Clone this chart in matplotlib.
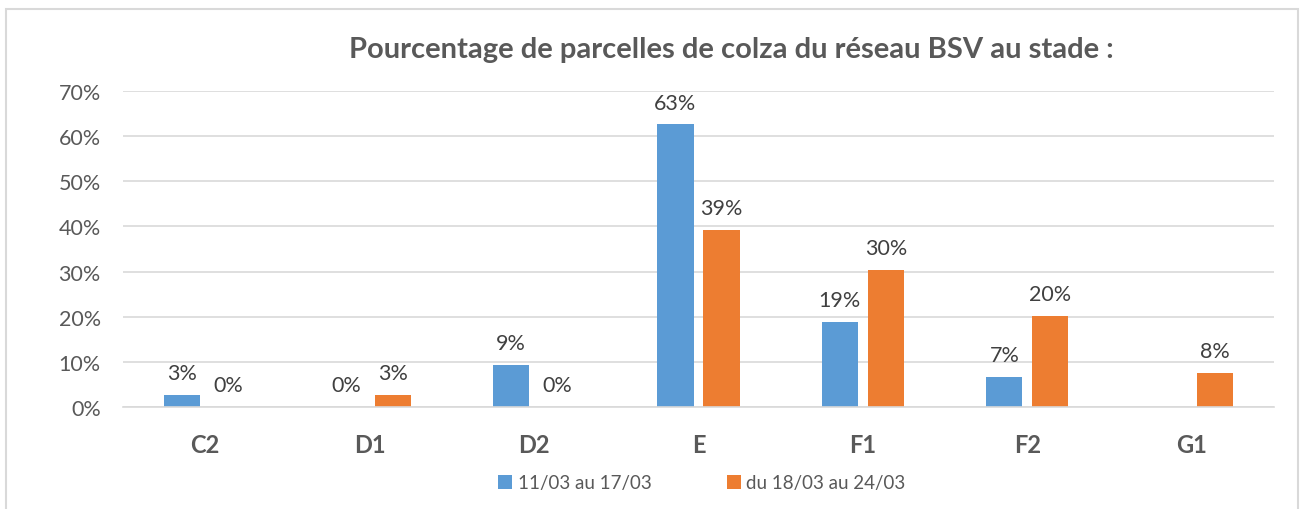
import numpy as np
import matplotlib.pyplot as plt
from matplotlib.patches import Rectangle

plt.rcParams['font.family'] = ['Lato', 'DejaVu Sans']

# donnees
stades = ["C2", "D1", "D2", "E", "F1", "F2", "G1"]
semaine1 = [2.7, 0.0, 9.3, 62.6, 18.8, 6.6, np.nan]
semaine2 = [0.0, 2.7, 0.0, 39.2, 30.3, 20.2, 7.5]
labels1 = ["3%", "0%", "9%", "63%", "19%", "7%", ""]
labels2 = ["0%", "3%", "0%", "39%", "30%", "20%", "8%"]
noms = ["11/03 au 17/03", "du 18/03 au 24/03"]

bleu = "#5b9bd5"
orange = "#ed7d31"
gris = "#595959"

fig = plt.figure(figsize=(13.06, 5.10), dpi=100)
ax = fig.add_axes([123/1306, 1-408/510, 1151/1306, 316/510])

x = np.arange(len(stades))
w = 0.22
d = 0.14
b1 = ax.bar(x - d, semaine1, w, color=bleu, label=noms[0])
b2 = ax.bar(x + d, semaine2, w, color=orange, label=noms[1])

for i in range(len(stades)):
    if labels1[i]:
        v = 0 if np.isnan(semaine1[i]) else semaine1[i]
        ax.text(x[i] - d, v + 2.6, labels1[i], ha="center", va="bottom", fontsize=15.5, color="#404040")
    if labels2[i]:
        ax.text(x[i] + d, semaine2[i] + 2.6, labels2[i], ha="center", va="bottom", fontsize=15.5, color="#404040")

ax.set_xlim(-0.5, len(stades) - 0.5)
ax.set_ylim(0, 70)
ax.set_yticks(range(0, 71, 10))
ax.set_yticklabels([f"{t}%" for t in range(0, 71, 10)])
ax.set_xticks(x)
ax.set_xticklabels(stades, fontweight="bold", fontsize=17, color=gris)
ax.tick_params(axis="y", length=0, pad=16, labelsize=15.5, labelcolor=gris)
ax.tick_params(axis="x", length=0, pad=19)
ax.yaxis.grid(True, color="#d9d9d9", linewidth=1.2)
ax.set_axisbelow(True)
for s in ["top", "right", "left"]:
    ax.spines[s].set_visible(False)
ax.spines["bottom"].set_color("#d9d9d9")
ax.spines["bottom"].set_linewidth(1.2)

fig.text(731/1306, 1-50/510, "Pourcentage de parcelles de colza du réseau BSV au stade :",
         ha="center", va="center", fontsize=21, fontweight="bold", color=gris)

fig.legend(handles=[b1, b2], loc="center", bbox_to_anchor=(702/1306, 1-484/510), ncol=2,
           frameon=False, fontsize=13.5, handlelength=0.75, handleheight=0.75,
           handletextpad=0.3, columnspacing=4.0, labelcolor=gris)

# cadre du graphique
fig.patches.append(Rectangle((6/1306, -0.05), 1292/1306, 1.05 - 10/510, transform=fig.transFigure,
                             fill=False, edgecolor="#d9d9d9", linewidth=1.5))

fig.savefig("out.png", dpi=100, facecolor="white")
